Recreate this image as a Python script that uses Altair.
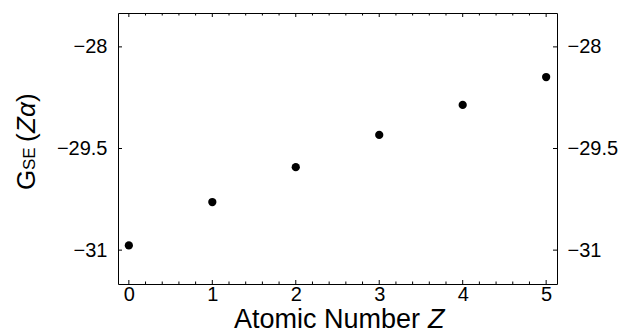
import altair as alt
import pandas as pd

# data
z_values = [0, 1, 2, 3, 4, 5]
g_values = [-30.93, -30.29, -29.775, -29.30, -28.857, -28.445]

x_major_ticks = [0, 1, 2, 3, 4, 5]
x_minor_ticks = [0.2, 0.4, 0.6, 0.8, 1.2, 1.4, 1.6, 1.8, 2.2, 2.4, 2.6, 2.8,
                 3.2, 3.4, 3.6, 3.8, 4.2, 4.4, 4.6, 4.8]
y_major_ticks = [-28, -29.5, -31]

x_title_main = ["Atomic Number"]
x_title_var = ["Z"]
y_title_g = ["G"]
y_title_sub = ["SE"]
y_title_lp = ["("]
y_title_var = ["Zα"]
y_title_rp = [")"]

FONT = "Liberation Sans"
W, H = 439, 271

xs = alt.Scale(domain=[-0.13, 5.13], nice=False, zero=False)
ys = alt.Scale(domain=[-31.5, -27.5], nice=False, zero=False)

pts = pd.DataFrame({"z": z_values, "g": g_values})

points = alt.Chart(pts).mark_circle(size=68, color="black", opacity=1).encode(
    x=alt.X("z:Q", scale=xs, axis=alt.Axis(values=x_major_ticks, format="d", title=None,
                                            ticks=False, domain=False, grid=False,
                                            labelFontSize=20, labelFont=FONT, labelColor="black",
                                            labelPadding=0)),
    y=alt.Y("g:Q", scale=ys, axis=None),
)

xmaj = pd.DataFrame({"t": x_major_ticks})
xmin = pd.DataFrame({"t": x_minor_ticks})
ymaj = pd.DataFrame({"t": y_major_ticks})

def xrule(df, y1, y2):
    return alt.Chart(df).mark_rule(color="black", strokeWidth=1).encode(
        x=alt.X("t:Q", scale=xs, axis=None), y=alt.value(y1), y2=alt.value(y2))

x_ticks = [
    xrule(xmaj, H, H - 4), xrule(xmaj, 0, 4),
    xrule(xmin, H, H - 2.5), xrule(xmin, 0, 2.5),
]

y_left = alt.Chart(ymaj).mark_rule(color="black", strokeWidth=1).encode(
    y=alt.Y("t:Q", scale=ys, axis=alt.Axis(orient="left", values=y_major_ticks, format=".3~g",
                                            title=None, ticks=False, domain=False, grid=False,
                                            labelFontSize=20, labelFont=FONT, labelColor="black",
                                            labelPadding=11)),
    x=alt.value(0), x2=alt.value(4),
)
y_right = alt.Chart(ymaj).mark_rule(color="black", strokeWidth=1).encode(
    y=alt.Y("t:Q", scale=ys, axis=alt.Axis(orient="right", values=y_major_ticks, format=".3~g",
                                            title=None, ticks=False, domain=False, grid=False,
                                            labelFontSize=20, labelFont=FONT, labelColor="black",
                                            labelPadding=10)),
    x=alt.value(W), x2=alt.value(W - 4),
)

def txt(lst, x, y, size, align, angle=0, italic=False):
    kw = dict(fontSize=size, font=FONT, align=align, baseline="alphabetic", color="black")
    if angle:
        kw["angle"] = angle
    if italic:
        kw["fontStyle"] = "italic"
    return alt.Chart(pd.DataFrame({"s": lst})).mark_text(**kw).encode(
        text="s:N", x=alt.value(x), y=alt.value(y))

titles = [
    txt(x_title_main, 302, 315, 27, "right"),
    txt(x_title_var, 310, 315, 27, "left", italic=True),
    txt(y_title_g, -83, 177, 26, "left", angle=270),
    txt(y_title_sub, -83, 157, 17, "left", angle=270),
    txt(y_title_lp, -83, 129, 26, "left", angle=270),
    txt(y_title_var, -83, 120, 26, "left", angle=270, italic=True),
    txt(y_title_rp, -83, 89, 26, "left", angle=270),
]

chart = alt.layer(points, *x_ticks, y_left, y_right, *titles).resolve_axis(
    x="independent", y="independent"
).properties(
    width=W, height=H,
    autosize=alt.AutoSizeParams(type="none"),
    padding={"left": 110, "top": 5, "right": 66, "bottom": 49},
).configure_view(stroke="black", strokeWidth=1)

chart.save("out.html", embed_options={"renderer": "svg", "actions": False})
